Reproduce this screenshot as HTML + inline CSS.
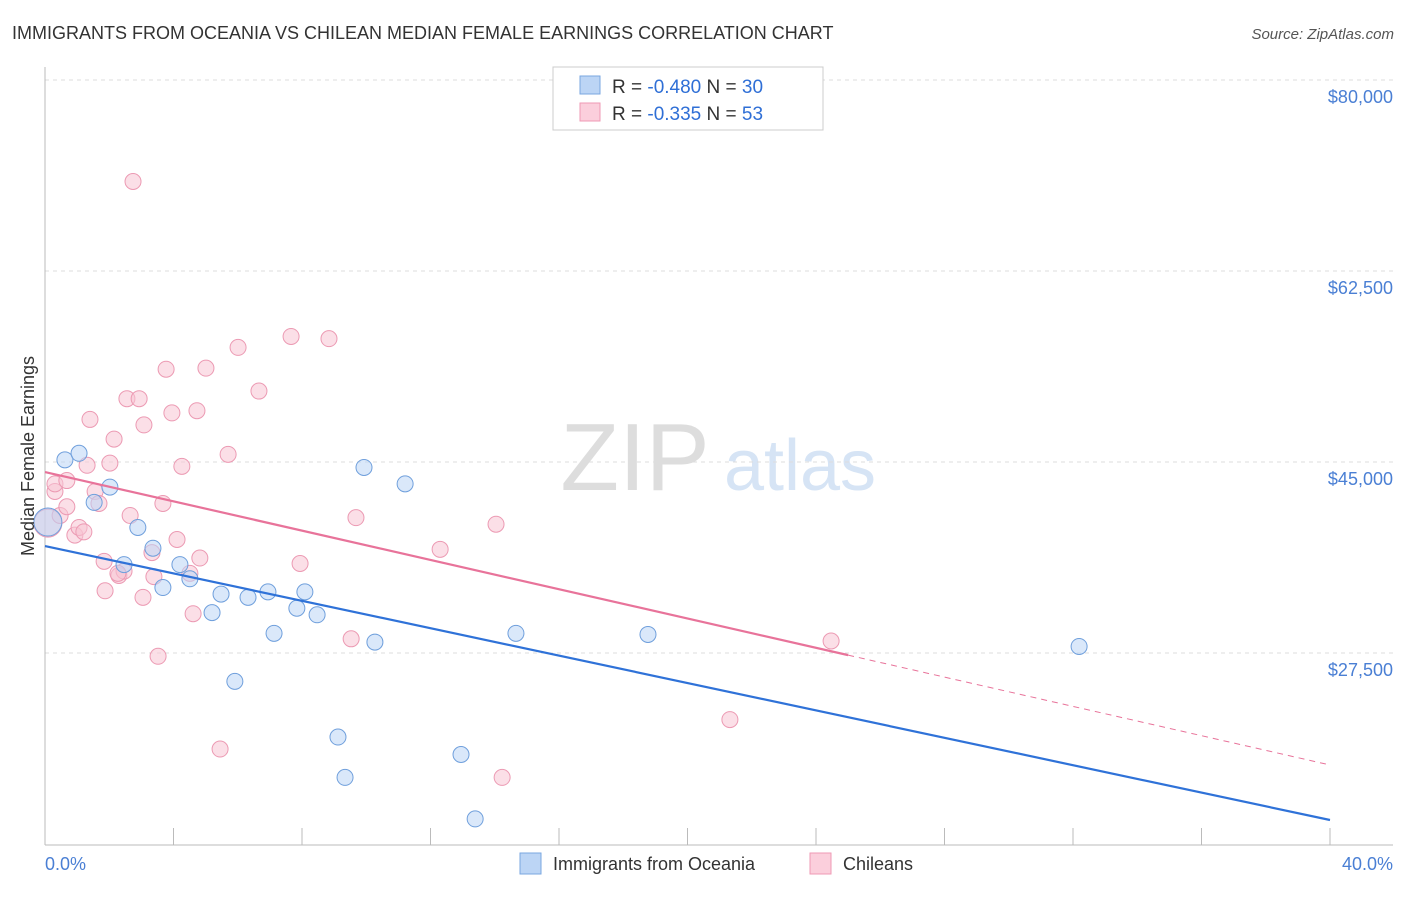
<!DOCTYPE html>
<html><head><meta charset="utf-8"><style>
body{margin:0;background:#fff;font-family:"Liberation Sans",sans-serif;}
svg text{font-family:"Liberation Sans",sans-serif;}
</style></head><body>
<svg width="1406" height="892" viewBox="0 0 1406 892" id="chart">
<text x="12" y="39" font-size="18" fill="#333">IMMIGRANTS FROM OCEANIA VS CHILEAN MEDIAN FEMALE EARNINGS CORRELATION CHART</text>
<text x="1394" y="39" font-size="15" fill="#555" font-style="italic" text-anchor="end">Source: ZipAtlas.com</text>
<g>
<text x="635" y="490" font-size="96" fill="#ddd" font-family="Liberation Serif" text-anchor="middle">ZIP</text>
<text x="800" y="490" font-size="72" fill="#d6e4f5" text-anchor="middle">atlas</text>
</g>
<g id="grid"></g>
<g id="axes"></g>
<g id="marks"></g>
<text transform="translate(34,456) rotate(-90)" font-size="18" fill="#333" text-anchor="middle">Median Female Earnings</text>
<text x="45" y="870" font-size="18" fill="#4a7fd4">0.0%</text>
<text x="1393" y="870" font-size="18" fill="#4a7fd4" text-anchor="end">40.0%</text>
<g>
<rect x="553" y="67" width="270" height="63" fill="#fff" stroke="#ccc"/>
<rect x="580" y="76" width="20" height="18" fill="#bcd5f5" stroke="#7aa7e0"/>
<rect x="580" y="103" width="20" height="18" fill="#fbcfdc" stroke="#ef9ab4"/>
<text x="612" y="93" font-size="19" fill="#333">R = <tspan fill="#2f6fd6">-0.480</tspan>   N = <tspan fill="#2f6fd6">30</tspan></text>
<text x="612" y="120" font-size="19" fill="#333">R =  <tspan fill="#2f6fd6">-0.335</tspan>   N = <tspan fill="#2f6fd6">53</tspan></text>
</g>
<g>
<rect x="520" y="853" width="21" height="21" fill="#bcd5f5" stroke="#7aa7e0"/>
<text x="553" y="870" font-size="18" fill="#333">Immigrants from Oceania</text>
<rect x="810" y="853" width="21" height="21" fill="#fbcfdc" stroke="#ef9ab4"/>
<text x="843" y="870" font-size="18" fill="#333">Chileans</text>
</g>
</svg>
<script>
const yTicks=[80000,62500,45000,27500];
const yTickLabels=["$80,000","$62,500","$45,000","$27,500"];
const xTicks=[0,4,8,12,16,20,24,28,32,36,40];
const blueX=[0.09,0.62,1.06,1.53,2.02,2.89,2.46,3.36,3.67,4.20,4.51,5.20,5.48,5.91,6.32,6.94,7.13,7.84,8.09,8.47,9.12,9.34,9.93,10.27,11.21,12.95,13.39,14.66,18.77,32.19];
const blueY=[39.5,45.2,45.8,41.3,42.7,39.0,35.6,37.1,33.5,35.6,34.3,31.2,32.9,24.9,32.6,33.1,29.3,31.6,33.1,31.0,19.8,16.1,44.5,28.5,43.0,18.2,12.3,29.3,29.2,28.1];
const pinkX=[0.09,0.31,0.31,0.47,0.68,0.68,0.93,1.06,1.21,1.40,1.31,1.56,1.68,1.84,1.87,2.02,2.15,2.30,2.46,2.55,2.65,2.74,2.93,3.05,3.08,3.33,3.39,3.52,3.67,3.77,3.95,4.11,4.26,4.61,4.73,4.82,5.01,5.45,5.70,6.01,6.66,7.66,7.94,8.84,9.53,9.68,12.30,14.04,14.23,21.32,24.47,4.51,2.27];
const pinkY=[39.4,42.3,43.0,40.1,43.3,40.9,38.3,39.0,38.6,48.9,44.7,42.3,41.2,35.9,33.2,44.9,47.1,34.6,35.0,50.8,40.1,70.7,50.8,32.6,48.4,36.7,34.5,27.2,41.2,53.5,49.5,37.9,44.6,31.1,49.7,36.2,53.6,18.7,45.7,55.5,51.5,56.5,35.7,56.3,28.8,39.9,37.0,39.3,16.1,21.4,28.6,34.8,34.8];
const blueTrend=[37.3,12.2];
const pinkTrend=[44.08,17.24];
const pinkSolidEnd=25;
const X=p=>45+p*(1330-45)/40;
const Y=v=>80+(80000-v)*191/17500;
const NS="http://www.w3.org/2000/svg";
function mk(tag,parent,attrs){const e=document.createElementNS(NS,tag);for(const k in attrs)e.setAttribute(k,attrs[k]);parent.appendChild(e);return e;}
const grid=document.getElementById('grid'),axes=document.getElementById('axes'),marks=document.getElementById('marks');
yTicks.forEach((t,i)=>{
 const l=mk('line',grid,{x1:45,x2:1393,y1:Y(t),y2:Y(t),stroke:'#ddd','stroke-dasharray':'4,4'});
 
 
 const tx=mk('text',axes,{x:1393,y:Y(t)+23,'font-size':18,fill:'#4a7fd4','text-anchor':'end'});
 tx.textContent=yTickLabels[i];
 
 
});
const ax=mk('line',axes,{x1:45,x2:1393,y1:845,y2:845,stroke:'#bbb'});


const ay=mk('line',axes,{x1:45,x2:45,y1:67,y2:845,stroke:'#bbb'});


xTicks.forEach(t=>{
 const l=mk('line',axes,{x1:X(t),x2:X(t),y1:828,y2:845,stroke:'#bbb'});
 
 
});
function dots(xs,ys,fill,stroke,name){
 xs.forEach((x,i)=>{
  const c=mk('circle',marks,{cx:X(x),cy:Y(ys[i]*1000),r:i===0?14:8,fill:fill,'fill-opacity':0.55,stroke:stroke,'stroke-width':1});
  
  
 });
}
dots(pinkX,pinkY,'#f8c4d4','#ec9ab3','point-chileans');
dots(blueX,blueY,'#bcd5f5','#6f9fdc','point-oceania');
const pAt=p=>pinkTrend[0]+(pinkTrend[1]-pinkTrend[0])*p/40;
const pl=mk('line',marks,{x1:X(0),y1:Y(pinkTrend[0]*1000),x2:X(pinkSolidEnd),y2:Y(pAt(pinkSolidEnd)*1000),stroke:'#e8739a','stroke-width':2.2});


const pd=mk('line',marks,{x1:X(pinkSolidEnd),y1:Y(pAt(pinkSolidEnd)*1000),x2:X(40),y2:Y(pinkTrend[1]*1000),stroke:'#e8739a','stroke-width':1,'stroke-dasharray':'6,5'});


const bl=mk('line',marks,{x1:X(0),y1:Y(blueTrend[0]*1000),x2:X(40),y2:Y(blueTrend[1]*1000),stroke:'#2f72d8','stroke-width':2.2});


</script>
</body></html>
